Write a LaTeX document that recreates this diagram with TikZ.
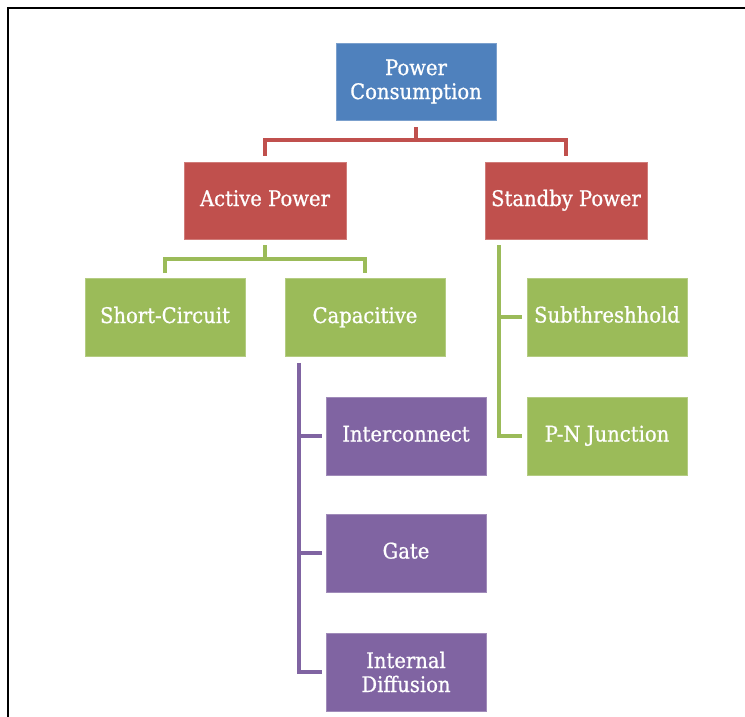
\documentclass[tikz,border=0pt]{standalone}
\usepackage{fontspec}
\setmainfont{DejaVu Serif}[FakeStretch=0.91, FakeBold=0.8]
\definecolor{cblue}{HTML}{4F81BD}
\definecolor{cred}{HTML}{C0504D}
\definecolor{cgreen}{HTML}{9BBB59}
\definecolor{cpurple}{HTML}{8064A2}
\tikzset{
  box/.style={rectangle, minimum width=160pt, minimum height=78pt, text=white,
    align=center, inner sep=2pt,
    font=\fontsize{21.5}{24}\selectfont, line width=0.6pt},
  oneline/.style={text height=16pt, text depth=5pt},
  bluebox/.style={box, fill=cblue, draw=cblue!75!white},
  redbox/.style={box, oneline, fill=cred, draw=cred!75!white},
  greenbox/.style={box, oneline, fill=cgreen, draw=cgreen!75!white},
  purplebox/.style={box, fill=cpurple, draw=cpurple!75!white},
  rline/.style={draw=cred, line width=4pt},
  gline/.style={draw=cgreen, line width=4pt},
  pline/.style={draw=cpurple, line width=4pt},
}
\begin{document}
\begin{tikzpicture}[x=1pt, y=-1pt]
\useasboundingbox (0,0) rectangle (745,717);
\fill[white] (0,0) rectangle (745,717);
\draw[line width=2.5pt, black] (8,717) -- (8,8) -- (745,8);

\node[bluebox, minimum height=77pt] (pc) at (416,81.5) {Power\\Consumption};
\node[redbox, minimum width=162pt, minimum height=77pt] (ap) at (265,200.5) {Active Power};
\node[redbox, minimum width=162pt, minimum height=77pt] (sp) at (566,200.5) {Standby Power};
\node[greenbox] (sc) at (165,317.5) {Short-Circuit};
\node[greenbox] (cap) at (365,317.5) {Capacitive};
\node[greenbox] (sub) at (607,317) {Subthreshhold};
\node[greenbox] (pn) at (607,436) {P-N Junction};
\node[purplebox, oneline] (ic) at (406,436) {Interconnect};
\node[purplebox, oneline] (gate) at (406,553) {Gate};
\node[purplebox] (id) at (406,672) {Internal\\Diffusion};

% red connectors
\draw[rline] ([yshift=-7pt]pc.south) -- ([yshift=-20pt]pc.south);
\draw[rline] ([yshift=6pt]ap.north) |- ([yshift=-20pt]pc.south) -| ([yshift=6pt]sp.north);

% green connectors from Active Power
\draw[gline] ([yshift=-6pt]ap.south) -- ([yshift=-20pt]ap.south);
\draw[gline] ([yshift=5pt]sc.north) |- ([yshift=-20pt]ap.south) -| ([yshift=5pt]cap.north);

% green connectors from Standby Power
\coordinate (sv) at ([xshift=14pt,yshift=-6pt]sp.south west);
\draw[gline] (sv) |- ([xshift=-5pt]pn.west);
\draw[gline] ([xshift=-5pt]sub.west) -- (sub.west -| sv);

% purple connectors from Capacitive
\coordinate (pv) at ([xshift=14pt,yshift=-6pt]cap.south west);
\draw[pline] (pv) |- ([xshift=-4pt]id.west);
\draw[pline] ([xshift=-4pt]ic.west) -- (ic.west -| pv);
\draw[pline] ([xshift=-4pt]gate.west) -- (gate.west -| pv);
\end{tikzpicture}
\end{document}
